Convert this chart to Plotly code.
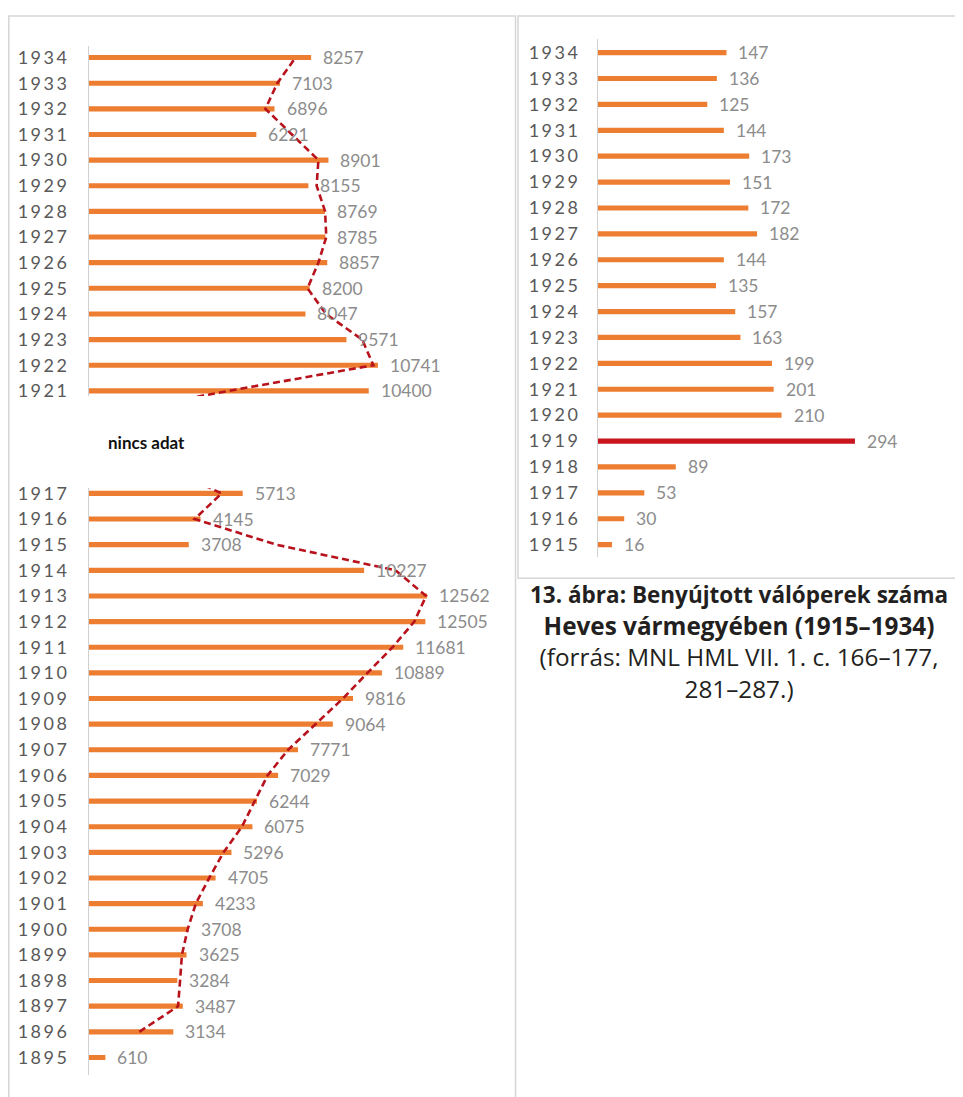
import plotly.graph_objects as go

# ---------------- data ----------------
left_years_top = [1921, 1922, 1923, 1924, 1925, 1926, 1927, 1928, 1929, 1930, 1931, 1932, 1933, 1934]
left_values_top = [10400, 10741, 9571, 8047, 8200, 8857, 8785, 8769, 8155, 8901, 6221, 6896, 7103, 8257]

left_years_bottom = [1895, 1896, 1897, 1898, 1899, 1900, 1901, 1902, 1903, 1904, 1905, 1906,
                     1907, 1908, 1909, 1910, 1911, 1912, 1913, 1914, 1915, 1916, 1917]
left_values_bottom = [610, 3134, 3487, 3284, 3625, 3708, 4233, 4705, 5296, 6075, 6244, 7029,
                      7771, 9064, 9816, 10889, 11681, 12505, 12562, 10227, 3708, 4145, 5713]

gap_years = [1918, 1919, 1920]   # no data ("nincs adat")

right_years = [1915, 1916, 1917, 1918, 1919, 1920, 1921, 1922, 1923, 1924,
               1925, 1926, 1927, 1928, 1929, 1930, 1931, 1932, 1933, 1934]
right_values = [16, 30, 53, 89, 294, 210, 201, 199, 163, 157,
                135, 144, 182, 172, 151, 173, 144, 125, 136, 147]
highlight_year = 1919

no_data_text = "nincs adat"
caption_lines = ['<b><span style="font-size:22.5px">13. ábra: Benyújtott válóperek száma</span></b>',
                 "<b>Heves vármegyében (1915–1934)</b>",
                 "(forrás: MNL HML VII. 1. c. 166–177,",
                 "281–287.)"]

# ---------------- helpers ----------------
ORANGE = "#ED7D31"
RED = "#C8151E"
DASH_RED = "#B8131C"
OFF = 8                      # default page body margin
W, H = 963 - OFF, 1097 - OFF


def py(px):
    return 1 - (px - OFF) / H


def pxx(px):
    return (px - OFF) / W


def moving_avg(years, values, zero_years):
    """2-period moving average (Excel trendline), missing years counted as 0."""
    d = dict(zip(years, values))
    for zy in zero_years:
        d[zy] = 0
    ys = sorted(d)
    xs_out, ys_out = [], []
    for y in ys:
        if y - 1 in d:
            xs_out.append((d[y] + d[y - 1]) / 2)
            ys_out.append(y)
    return xs_out, ys_out


def yr_text(y):
    return '<span style="letter-spacing:2.5px">%d</span>' % y


fig = go.Figure()

BAR_W = 0.2
fig.add_trace(go.Bar(x=left_values_top, y=left_years_top, orientation="h",
                     marker=dict(color=ORANGE, line=dict(width=0)), width=BAR_W,
                     xaxis="x", yaxis="y", showlegend=False, hoverinfo="skip"))
fig.add_trace(go.Bar(x=left_values_bottom, y=left_years_bottom, orientation="h",
                     marker=dict(color=ORANGE, line=dict(width=0)), width=BAR_W,
                     xaxis="x", yaxis="y2", showlegend=False, hoverinfo="skip"))

mx, my = moving_avg(left_years_top, left_values_top, [1919, 1920])
fig.add_trace(go.Scatter(x=mx, y=my, mode="lines", xaxis="x", yaxis="y",
                         line=dict(color=DASH_RED, width=2.6, dash="7px,4px"),
                         showlegend=False, hoverinfo="skip"))
mx2, my2 = moving_avg(left_years_bottom, left_values_bottom, [1918])
fig.add_trace(go.Scatter(x=mx2, y=my2, mode="lines", xaxis="x", yaxis="y2",
                         line=dict(color=DASH_RED, width=2.6, dash="7px,4px"),
                         showlegend=False, hoverinfo="skip"))

right_colors = [RED if y == highlight_year else ORANGE for y in right_years]
fig.add_trace(go.Bar(x=right_values, y=right_years, orientation="h",
                     marker=dict(color=right_colors, line=dict(width=0)), width=BAR_W,
                     xaxis="x2", yaxis="y4", showlegend=False, hoverinfo="skip"))

# ---------------- layout ----------------
PXY_L = 25.9
Y1934_L = 52


def yr_at(px):
    return 1934 - (px - Y1934_L) / PXY_L


top_px, split1, split2, bot_px = 40, 394, 487, 1080

tick_font = dict(family="Lato", size=18, color="#595959")

common_y = dict(type="linear", showgrid=False, zeroline=False, ticks="",
                ticklabelstandoff=15, tickfont=tick_font, fixedrange=True)

layout_axes = dict(
    xaxis=dict(domain=[pxx(89), pxx(500)], range=[0, 411 / 0.0269], visible=False,
               anchor="y2", fixedrange=True),
    xaxis2=dict(domain=[pxx(598), pxx(940)], range=[0, 342 / 0.874], visible=False,
                anchor="y4", fixedrange=True),
    yaxis=dict(domain=[py(split1), py(top_px)], range=[yr_at(split1), yr_at(top_px)],
               anchor="x", tickvals=left_years_top,
               ticktext=[yr_text(y) for y in left_years_top],
               showline=True, linecolor="#d0d0d0", linewidth=1, **common_y),
    yaxis2=dict(domain=[py(bot_px), py(split2)], range=[yr_at(bot_px), yr_at(split2)],
                anchor="x", tickvals=left_years_bottom,
                ticktext=[yr_text(y) for y in left_years_bottom],
                showline=True, linecolor="#d0d0d0", linewidth=1, **common_y),
    yaxis3=dict(domain=[py(split2), py(split1)], range=[yr_at(split2), yr_at(split1)],
                anchor="x", tickvals=gap_years,
                ticktext=[yr_text(y) for y in gap_years],
                showline=False, **common_y),
)

PXY_R = 26.16
Y1934_R = 47


def yr_at_r(px):
    return 1934 - (px - Y1934_R) / PXY_R


layout_axes["yaxis4"] = dict(domain=[py(557), py(33)], range=[yr_at_r(557), yr_at_r(33)],
                             anchor="x2", tickvals=right_years,
                             ticktext=[yr_text(y) for y in right_years],
                             showline=True, linecolor="#d0d0d0", linewidth=1,
                             **{**common_y, "ticklabelstandoff": 13})

annotations = []
val_font = dict(family="Lato", size=17.5, color="#8c8c8c")
for yv, xv in zip(left_years_top, left_values_top):
    annotations.append(dict(x=xv, y=yv, xref="x", yref="y", text=str(xv), showarrow=False,
                            xanchor="left", yanchor="middle", xshift=10, font=val_font))
for yv, xv in zip(left_years_bottom, left_values_bottom):
    annotations.append(dict(x=xv, y=yv, xref="x", yref="y2", text=str(xv), showarrow=False,
                            xanchor="left", yanchor="middle", xshift=10, font=val_font))
for yv, xv in zip(right_years, right_values):
    annotations.append(dict(x=xv, y=yv, xref="x2", yref="y4", text=str(xv), showarrow=False,
                            xanchor="left", yanchor="middle", xshift=10, font=val_font))

annotations.append(dict(x=pxx(106), y=py(441), xref="paper", yref="paper",
                        text="<b>" + no_data_text + "</b>", showarrow=False,
                        xanchor="left", yanchor="middle",
                        font=dict(family="Lato", size=17, color="#111111")))

annotations.append(dict(x=pxx(739), y=py(642), xref="paper", yref="paper",
                        text="<br>".join(caption_lines), showarrow=False,
                        xanchor="center", yanchor="middle", align="center",
                        font=dict(family="Open Sans", size=24.3, color="#231f20")))

shapes = [
    dict(type="rect", xref="paper", yref="paper", x0=pxx(8.8), x1=pxx(515.5),
         y0=py(1110), y1=py(10), line=dict(color="#d6d6d6", width=1.5)),
    dict(type="rect", xref="paper", yref="paper", x0=pxx(518), x1=pxx(975),
         y0=py(578), y1=py(10), line=dict(color="#d6d6d6", width=1.5)),
]

fig.update_layout(width=W, height=H, margin=dict(l=0, r=0, t=0, b=0),
                  paper_bgcolor="white", plot_bgcolor="rgba(0,0,0,0)",
                  barmode="overlay", annotations=annotations, shapes=shapes,
                  **layout_axes)

fig.write_html("out.html")
